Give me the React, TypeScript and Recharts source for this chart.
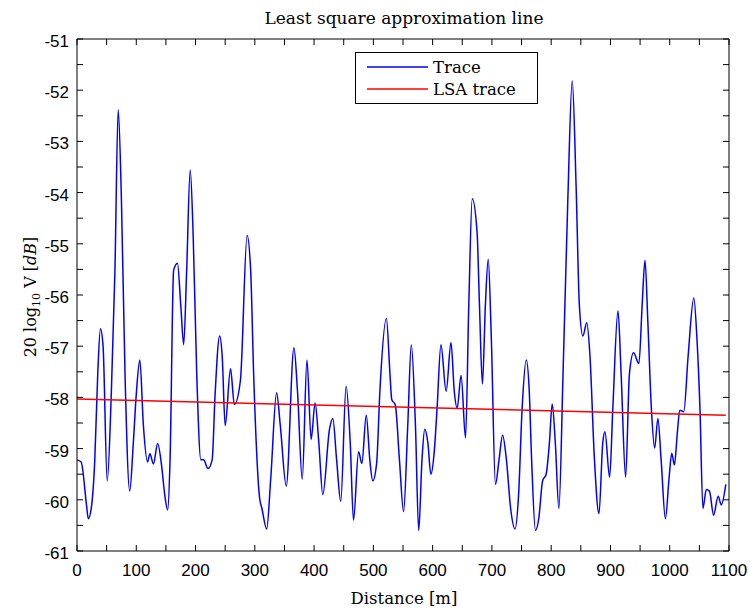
import { LineChart, Line, XAxis, YAxis } from 'recharts';

// distance [m] of trace samples
const distances = [
  0, 7, 16, 19, 24, 30, 35, 39.5, 44, 51, 58, 64, 69.5, 75, 81, 89, 95, 100, 106, 112,
  119, 123, 129, 136, 143, 148, 153, 157, 163, 169.5, 175, 180, 185, 191, 196, 202, 209, 213.6, 221, 228,
  233, 240.7, 245, 250, 259, 265.5, 275.7, 287, 293, 298, 308, 312, 320, 327, 336.7, 343, 353, 366, 372, 380,
  388, 395, 401.7, 408, 414.7, 426, 431.6, 438, 445, 454, 461, 466.5, 475, 480.6, 488, 494, 499, 505.5, 511, 522,
  528, 531, 537, 544, 551, 558, 564, 571, 576.5, 582, 586.7, 592, 597, 603, 607.5, 614, 622.8, 631, 636.5, 641.4,
  648, 655.5, 661, 666.8, 675, 679, 684, 689, 693.8, 699, 706, 712, 718, 724.5, 731.6, 739, 745, 751, 758, 763,
  767, 773.5, 779, 785.5, 791.5, 797, 801.7, 807, 813, 820, 828, 835.5, 842, 847.5, 853.5, 860, 865.5, 873, 880.6, 887,
  890.7, 898.6, 904, 912.7, 918, 925.6, 932, 939, 948, 953.5, 958.3, 963, 969, 974.6, 980, 985.5, 992.7, 999, 1003.4, 1007.9,
  1013, 1016.9, 1023.7, 1031, 1040.6, 1046, 1051, 1056, 1061.7, 1067, 1074, 1081.7, 1087, 1094.6,
];

// 20 log10 V [dB]
const traceValues = [
  -59.22, -59.26, -60.1, -60.37, -60.17, -59.22, -57.54, -56.66, -57.0, -59.63, -57.88, -55.52, -52.38, -54.17, -57.54, -59.83, -58.89, -57.94, -57.27, -58.55,
  -59.26, -59.1, -59.3, -58.9, -59.36, -59.9, -60.2, -59.22, -55.52, -55.38, -56.19, -56.97, -55.52, -53.56, -54.84, -57.54, -59.22, -59.22, -59.39, -59.22,
  -57.94, -56.8, -57.2, -58.55, -57.44, -58.14, -57.67, -54.84, -55.52, -57.54, -59.96, -60.17, -60.57, -59.56, -57.91, -58.55, -59.73, -57.03, -57.88, -59.6,
  -57.27, -58.82, -58.11, -58.89, -59.9, -58.62, -58.41, -59.22, -60.03, -57.78, -58.89, -60.4, -59.06, -59.29, -58.35, -59.22, -59.63, -59.29, -57.88, -56.46,
  -57.54, -58.04, -58.15, -59.22, -60.23, -58.55, -56.97, -58.55, -60.6, -59.22, -58.62, -58.89, -59.5, -59.02, -58.21, -56.97, -57.88, -56.93, -57.88, -58.21,
  -57.57, -58.79, -56.19, -54.12, -54.78, -56.19, -57.74, -56.19, -55.3, -56.84, -59.7, -59.22, -58.74, -59.22, -60.17, -60.57, -59.9, -58.21, -57.27, -57.88,
  -59.22, -60.6, -60.37, -59.63, -59.5, -58.89, -58.13, -58.89, -60.17, -57.54, -54.17, -51.82, -53.85, -56.19, -56.8, -56.54, -57.2, -59.22, -60.27, -58.89,
  -58.67, -59.56, -58.21, -56.31, -57.54, -59.56, -57.54, -57.13, -57.34, -56.19, -55.32, -56.5, -58.21, -58.99, -58.41, -59.22, -60.37, -59.56, -59.09, -59.32,
  -58.67, -58.25, -58.28, -57.2, -56.06, -56.87, -58.21, -60.17, -59.8, -59.83, -60.3, -59.93, -60.1, -59.7,
];

const lsaDistances = [0, 1094.6];
const lsaValues = [-58.03, -58.35];

const xTicks = [0, 50, 100, 150, 200, 250, 300, 350, 400, 450, 500, 550, 600, 650, 700, 750, 800, 850, 900, 950, 1000, 1050, 1100];
const yTicks = [-61, -60.5, -60, -59.5, -59, -58.5, -58, -57.5, -57, -56.5, -56, -55.5, -55, -54.5, -54, -53.5, -53, -52.5, -52, -51.5, -51];

const traceData = distances.map((d, i) => ({ d, v: traceValues[i] }));
const lsaData = lsaDistances.map((d, i) => ({ d, v: lsaValues[i] }));

const tickFont = { fontFamily: '"Liberation Sans", Arial, sans-serif', fontSize: 17, fill: '#000' };
const serif = '"DejaVu Serif", serif';
const TL = 6;

const BottomTick = ({ x, y, payload }: any) => (
  <g>
    <line x1={x} x2={x} y1={y} y2={y - TL} stroke="#000" />
    {payload.value % 100 === 0 && (
      <text x={x} y={y + 25} textAnchor="middle" {...tickFont}>{payload.value}</text>
    )}
  </g>
);

const TopTick = ({ x, y }: any) => <line x1={x} x2={x} y1={y} y2={y + TL} stroke="#000" />;

const LeftTick = ({ x, y, payload }: any) => (
  <g>
    <line x1={x} x2={x + TL} y1={y} y2={y} stroke="#000" />
    {Number.isInteger(payload.value) && (
      <text x={x - 8} y={y + 8} textAnchor="end" {...tickFont}>{payload.value}</text>
    )}
  </g>
);

const RightTick = ({ x, y }: any) => <line x1={x} x2={x - TL} y1={y} y2={y} stroke="#000" />;

export default function App() {
  return (
    <div style={{ position: 'absolute', left: 0, top: 0, width: 750, height: 610, background: '#fff' }}>
      <LineChart width={750} height={610} margin={{ top: 0, right: 0, bottom: 0, left: 0 }}>
        <XAxis xAxisId="b" dataKey="d" type="number" domain={[0, 1100]} ticks={xTicks} interval={0}
          height={59} tickSize={0} tickMargin={0} tick={BottomTick} stroke="#000" />
        <XAxis xAxisId="t" orientation="top" dataKey="d" type="number" domain={[0, 1100]} ticks={xTicks} interval={0}
          height={39} tickSize={0} tickMargin={0} tick={TopTick} stroke="#000" />
        <YAxis yAxisId="l" type="number" domain={[-61, -51]} ticks={yTicks} interval={0}
          width={77} tickSize={0} tickMargin={0} tick={LeftTick} stroke="#000" />
        <YAxis yAxisId="r" orientation="right" type="number" domain={[-61, -51]} ticks={yTicks} interval={0}
          width={21} tickSize={0} tickMargin={0} tick={RightTick} stroke="#000" />
        <Line xAxisId="b" yAxisId="l" data={traceData} dataKey="v" name="Trace" type="monotone"
          stroke="#0000ff" strokeWidth={1.5} dot={false} isAnimationActive={false} />
        <Line xAxisId="t" yAxisId="r" data={lsaData} dataKey="v" name="LSA trace" type="linear"
          stroke="#ff0000" strokeWidth={1.5} dot={false} isAnimationActive={false} />
      </LineChart>
      <svg width={750} height={610} style={{ position: 'absolute', left: 0, top: 0, pointerEvents: 'none' }}>
        <text x={404} y={24} textAnchor="middle" fontFamily={serif} fontSize={17} fill="#000">
          Least square approximation line
        </text>
        <text x={404} y={604} textAnchor="middle" fontFamily={serif} fontSize={16.5} fill="#000">
          Distance [m]
        </text>
        <text transform="translate(36, 297) rotate(-90)" textAnchor="middle" fontFamily={serif} fontSize={16} fill="#000">
          20 log<tspan fontSize={11} dy={4}>10</tspan><tspan dy={-4}> V [</tspan><tspan fontStyle="italic">dB</tspan>]
        </text>
        <g transform="translate(355, 52)">
          <rect x={0.5} y={0.5} width={182} height={51} fill="#fff" stroke="#000" />
          <line x1={12} x2={73} y1={15} y2={15} stroke="#0000ff" strokeWidth={1.5} />
          <line x1={12} x2={73} y1={37} y2={37} stroke="#ff0000" strokeWidth={1.5} />
          <text x={78} y={21} fontFamily={serif} fontSize={16.5} fill="#000">Trace</text>
          <text x={78} y={43} fontFamily={serif} fontSize={16.5} fill="#000">LSA trace</text>
        </g>
      </svg>
    </div>
  );
}
